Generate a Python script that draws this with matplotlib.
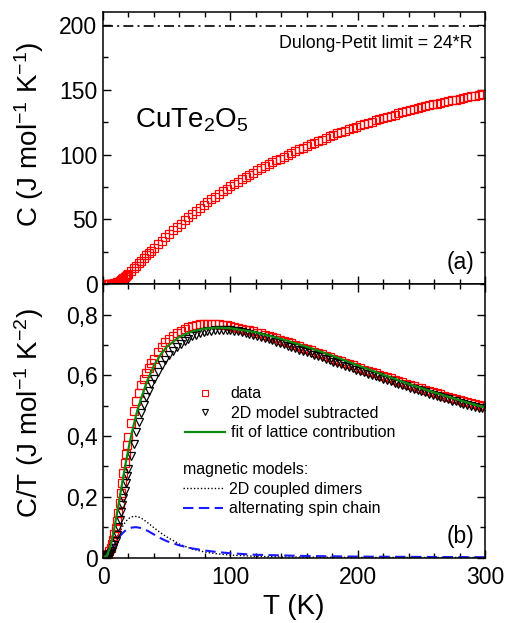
import numpy as np
import matplotlib
matplotlib.use("Agg")
import matplotlib.pyplot as plt
from matplotlib.ticker import MultipleLocator, FuncFormatter

plt.rcParams['font.family'] = ['Liberation Sans', 'DejaVu Sans']
plt.rcParams['mathtext.fontset'] = 'custom'
plt.rcParams['mathtext.rm'] = 'Liberation Sans'
plt.rcParams['mathtext.it'] = 'Liberation Sans:italic'
plt.rcParams['mathtext.default'] = 'regular'

# measured temperatures (K)
T = [2, 3, 4, 5, 6, 7, 8, 9, 10, 11, 12, 13, 14, 15, 16, 17, 18, 19, 20,
     22, 24, 26, 28, 30, 32, 34, 36, 38, 40,
     43, 46, 49, 52, 55, 58, 61, 64, 67, 70,
     73, 76, 79, 82, 85, 88, 91, 94, 97, 100,
     103, 106, 109, 112, 115, 118, 121, 124, 127, 130,
     133, 136, 139, 142, 145, 148, 151, 154, 157, 160,
     163, 166, 169, 172, 175, 178, 181, 184, 187, 190,
     193, 196, 199, 202, 205, 208, 211, 214, 217, 220,
     223, 226, 229, 232, 235, 238, 241, 244, 247, 250,
     253, 256, 259, 262, 265, 268, 271, 274, 277, 280,
     283, 286, 289, 292, 295, 298]

# specific heat C (J/mol K), panel (a)
C = [0.05, 0.1, 0.15, 0.2, 0.3, 0.4, 0.55, 0.75, 1.0, 1.4, 1.9, 2.5, 3.1, 3.8, 4.6, 5.4, 6.3, 7.2, 8.2,
     10.2, 12.2, 14.2, 16.2, 18.2, 20.2, 22.2, 24.1, 26.0, 27.9,
     30.7, 33.5, 36.2, 38.9, 41.5, 44.1, 46.7, 49.2, 51.7, 54.1,
     56.4, 58.8, 61.1, 63.3, 65.5, 67.6, 69.7, 71.7, 73.7, 75.6,
     77.4, 79.2, 81.0, 82.8, 84.5, 86.1, 87.8, 89.4, 90.9, 92.5,
     94.0, 95.5, 97.0, 98.4, 99.8, 101.2, 102.6, 104.0, 105.4, 106.7,
     108.0, 109.2, 110.4, 111.6, 112.8, 114.0, 115.1, 116.3, 117.4, 118.4,
     119.5, 120.5, 121.6, 122.6, 123.6, 124.6, 125.5, 126.5, 127.4, 128.3,
     129.2, 130.1, 130.9, 131.8, 132.6, 133.4, 134.2, 135.0, 135.8, 136.5,
     137.3, 138.0, 138.7, 139.3, 140.0, 140.7, 141.3, 141.9, 142.5, 143.1,
     143.7, 144.3, 144.9, 145.5, 146.1, 146.7]

# C/T data, panel (b)
CT_data = [0.004, 0.008, 0.013, 0.02, 0.03, 0.043, 0.058, 0.076, 0.096, 0.12, 0.148, 0.18, 0.212, 0.245,
           0.278, 0.31, 0.34, 0.369, 0.396,
           0.443, 0.482, 0.515, 0.543, 0.567, 0.589, 0.608, 0.625, 0.64, 0.654,
           0.678, 0.695, 0.709, 0.721, 0.731, 0.739, 0.746, 0.753, 0.758, 0.762,
           0.765, 0.768, 0.769, 0.770, 0.770, 0.770, 0.769, 0.767, 0.765, 0.763,
           0.760, 0.757, 0.754, 0.751, 0.748, 0.745, 0.741, 0.738, 0.734, 0.730,
           0.726, 0.722, 0.718, 0.714, 0.709, 0.705, 0.700, 0.696, 0.691, 0.687,
           0.682, 0.678, 0.673, 0.669, 0.664, 0.660, 0.655, 0.651, 0.646, 0.642,
           0.637, 0.633, 0.628, 0.624, 0.619, 0.615, 0.611, 0.607, 0.602, 0.598,
           0.594, 0.590, 0.585, 0.581, 0.577, 0.573, 0.569, 0.564, 0.560, 0.557,
           0.553, 0.549, 0.545, 0.541, 0.537, 0.533, 0.530, 0.527, 0.523, 0.520,
           0.516, 0.513, 0.510, 0.507, 0.503, 0.500]

# C/T with 2D dimer model subtracted
CT_sub = [0.002, 0.004, 0.007, 0.01, 0.015, 0.022, 0.03, 0.041, 0.055, 0.073, 0.1, 0.125, 0.15, 0.173,
          0.197, 0.22, 0.244, 0.267, 0.29,
          0.333, 0.374, 0.412, 0.446, 0.477, 0.504, 0.528, 0.55, 0.57, 0.588,
          0.612, 0.633, 0.651, 0.667, 0.681, 0.693, 0.704, 0.713, 0.721, 0.728,
          0.733, 0.738, 0.742, 0.745, 0.747, 0.749, 0.750, 0.750, 0.749, 0.748,
          0.747, 0.745, 0.743, 0.740, 0.737, 0.734, 0.730, 0.727, 0.723, 0.719,
          0.715, 0.711, 0.707, 0.702, 0.698, 0.694, 0.690, 0.685, 0.681, 0.676,
          0.672, 0.667, 0.663, 0.659, 0.654, 0.650, 0.645, 0.641, 0.636, 0.632,
          0.627, 0.623, 0.619, 0.614, 0.610, 0.606, 0.601, 0.597, 0.593, 0.589,
          0.584, 0.580, 0.576, 0.572, 0.568, 0.564, 0.560, 0.556, 0.552, 0.548,
          0.544, 0.540, 0.536, 0.532, 0.528, 0.525, 0.521, 0.517, 0.514, 0.510,
          0.507, 0.503, 0.500, 0.497, 0.494, 0.491]

# lattice fit
T_fit = [0, 3, 6, 9, 12, 15, 18, 21, 24, 27, 30, 35, 40, 45, 50, 60, 70, 80, 90, 100,
         120, 140, 160, 180, 200, 220, 240, 260, 280, 300]
CT_fit = [0, 0.005, 0.04, 0.1, 0.17, 0.245, 0.315, 0.38, 0.435, 0.485, 0.525, 0.585, 0.632, 0.667, 0.694,
          0.727, 0.745, 0.754, 0.757, 0.755, 0.742, 0.72, 0.694, 0.665, 0.633, 0.602, 0.572, 0.544, 0.518, 0.494]

# magnetic models
T_dim = [3, 6, 9, 12, 15, 18, 21, 24, 27, 30, 35, 40, 45, 50, 60, 70, 80, 90, 100,
         120, 140, 160, 200, 250, 300]
CT_dim = [0.0, 0.015, 0.045, 0.075, 0.1, 0.12, 0.131, 0.136, 0.135, 0.13, 0.115, 0.098, 0.082, 0.068,
          0.044, 0.028, 0.018, 0.012, 0.008, 0.004, 0.002, 0.001, 0.0005, 0.0002, 0.0001]

T_chain = [6, 8, 10, 12, 14, 16, 18, 20, 23, 26, 30, 35, 40, 45, 50, 60, 70, 80, 90, 100,
           120, 140, 160, 180, 200, 250, 300]
CT_chain = [0.02, 0.035, 0.048, 0.062, 0.074, 0.083, 0.09, 0.095, 0.099, 0.1, 0.097, 0.088, 0.076, 0.064,
            0.054, 0.04, 0.03, 0.023, 0.018, 0.014, 0.009, 0.007, 0.005, 0.004, 0.003, 0.002, 0.001]

dp_limit = 24 * 8.314

fig = plt.figure(figsize=(5.09, 6.23), dpi=100)
ax1 = fig.add_axes([0.2024, 0.5437, 0.7505, 0.437])
ax2 = fig.add_axes([0.2024, 0.1051, 0.7505, 0.4386], sharex=ax1)

for ax in (ax1, ax2):
    ax.tick_params(which='both', direction='in', top=True, right=True, width=1.0)
    ax.tick_params(which='major', length=6, labelsize=16.5)
    ax.tick_params(which='minor', length=3.5)
    ax.tick_params(axis='y', pad=4)
    ax.tick_params(axis='x', pad=6)
    for s in ax.spines.values():
        s.set_linewidth(1.1)
    ax.xaxis.set_major_locator(MultipleLocator(100))
    ax.xaxis.set_minor_locator(MultipleLocator(20))

ms = 5.8

# panel (a)
ax1.plot(T, C, 's', ms=ms, mfc='none', mec='red', mew=0.9)
ax1.axhline(dp_limit, color='black', lw=1.2, ls=(0, (6, 2.5, 1.2, 2.5)))
ax1.set_xlim(0, 300)
ax1.set_ylim(0, 210)
ax1.yaxis.set_major_locator(MultipleLocator(50))
ax1.yaxis.set_minor_locator(MultipleLocator(25))
plt.setp(ax1.get_xticklabels(), visible=False)
ax1.set_ylabel(r'C (J mol$^{-1}$ K$^{-1}$)', fontsize=20)
ax1.yaxis.set_label_coords(-0.15, 0.55)
ax1.text(290, 186, 'Dulong-Petit limit = 24*R', fontsize=12.8, ha='right', va='center')
ax1.text(25, 121, r'CuTe$_2$O$_5$', fontsize=20, ha='left', va='baseline')
ax1.text(292, 17, '(a)', fontsize=16.5, ha='right', va='center')

# panel (b)
ax2.plot(T_dim, CT_dim, color='black', lw=1.0, ls=(0, (1, 1.5)))
ax2.plot(T_chain, CT_chain, color='#1a1aff', lw=1.5, ls=(0, (5, 2.6)))
ax2.plot(T, CT_data, 's', ms=ms, mfc='none', mec='red', mew=0.9)
ax2.plot(T, CT_sub, 'v', ms=ms, mfc='none', mec='black', mew=0.9)
ax2.plot(T_fit, CT_fit, color='#108a10', lw=1.6)
ax2.set_ylim(0, 0.9)
ax2.yaxis.set_major_locator(MultipleLocator(0.2))
ax2.yaxis.set_minor_locator(MultipleLocator(0.1))
ax2.yaxis.set_major_formatter(FuncFormatter(lambda v, p: '0' if abs(v) < 1e-9 else f'{v:.1f}'.replace('.', ',')))
ax2.set_ylabel(r'C/T (J mol$^{-1}$ K$^{-2}$)', fontsize=20)
ax2.yaxis.set_label_coords(-0.15, 0.53)
ax2.set_xlabel('T (K)', fontsize=20, labelpad=4)
ax2.text(292, 0.068, '(b)', fontsize=16.5, ha='right', va='center')

h_data, = ax2.plot([], [], 's', ms=4.5, mfc='none', mec='red', mew=0.8)
h_sub, = ax2.plot([], [], 'v', ms=4.5, mfc='none', mec='black', mew=0.8)
h_fit, = ax2.plot([], [], color='#108a10', lw=1.6)
leg1 = ax2.legend([h_data, h_sub, h_fit],
                  ['data', '2D model subtracted', 'fit of lattice contribution'],
                  loc='upper left', bbox_to_anchor=(0.215, 0.627), frameon=False,
                  fontsize=11.5, handlelength=2.5, handletextpad=0.35, labelspacing=0.28,
                  borderpad=0, borderaxespad=0)
ax2.add_artist(leg1)

h_dim, = ax2.plot([], [], color='black', lw=1.0, ls=(0, (1, 1.5)))
h_chain, = ax2.plot([], [], color='#1a1aff', lw=1.5, ls=(0, (5, 2.6)))
leg2 = ax2.legend([h_dim, h_chain], ['2D coupled dimers', 'alternating spin chain'],
                  title='magnetic models:', title_fontsize=11.5, alignment='left',
                  loc='upper left', bbox_to_anchor=(0.21, 0.348), frameon=False,
                  fontsize=11.5, handlelength=2.5, handletextpad=0.35, labelspacing=0.28,
                  borderpad=0, borderaxespad=0)

fig.savefig('out.png', dpi=100)
